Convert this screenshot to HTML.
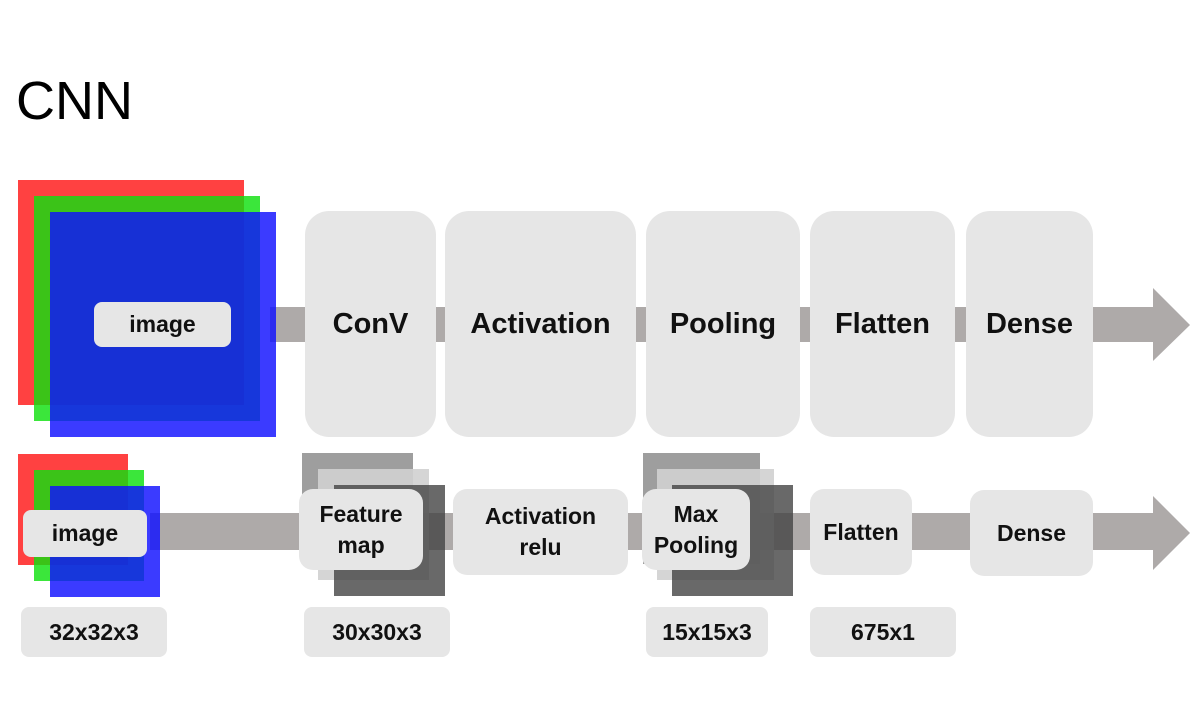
<!DOCTYPE html>
<html><head><style>
body{margin:0;width:1197px;height:705px;background:#fff;position:relative;overflow:hidden;font-family:"Liberation Sans",sans-serif}
div{position:absolute;box-sizing:border-box}
.b{background:#e6e6e6;border-radius:24px;display:flex;align-items:center;justify-content:center;text-align:center;font-weight:bold;color:#111;font-size:29px}
.s{background:#e6e6e6;border-radius:12px;display:flex;align-items:center;justify-content:center;text-align:center;font-weight:bold;color:#111;font-size:23px;line-height:31px}
</style></head><body>
<div style="left:16px;top:70px;font-size:54px;color:#000">CNN</div>
<svg style="position:absolute;left:0;top:0" width="1197" height="705">
<rect x="270" y="307" width="890" height="35" fill="#aeaaa9"/>
<polygon points="1153,288 1190,325 1153,361" fill="#aeaaa9"/>
<rect x="150" y="513" width="1010" height="37" fill="#aeaaa9"/>
<polygon points="1153,496 1190,533 1153,570" fill="#aeaaa9"/>
<rect x="18" y="180" width="226" height="225" fill="#ff2020" fill-opacity=".85"/>
<rect x="34" y="196" width="226" height="225" fill="#10e010" fill-opacity=".82"/>
<rect x="50" y="212" width="226" height="225" fill="#1010ff" fill-opacity=".82"/>
<rect x="18" y="454" width="110" height="111" fill="#ff2020" fill-opacity=".85"/>
<rect x="34" y="470" width="110" height="111" fill="#10e010" fill-opacity=".82"/>
<rect x="50" y="486" width="110" height="111" fill="#1010ff" fill-opacity=".82"/>
<rect x="302" y="453" width="111" height="111" fill="#9e9e9e"/>
<rect x="318" y="469" width="111" height="111" fill="#d0d0d0" fill-opacity=".9"/>
<rect x="334" y="485" width="111" height="111" fill="#444" fill-opacity=".8"/>
<rect x="643" y="453" width="117" height="111" fill="#9e9e9e"/>
<rect x="657" y="469" width="117" height="111" fill="#d0d0d0" fill-opacity=".9"/>
<rect x="672" y="485" width="121" height="111" fill="#444" fill-opacity=".8"/>
</svg>
<div class="s" style="left:94px;top:302px;width:137px;height:45px;border-radius:8px">image</div>
<div class="b" style="left:305px;top:211px;width:131px;height:226px">ConV</div>
<div class="b" style="left:445px;top:211px;width:191px;height:226px">Activation</div>
<div class="b" style="left:646px;top:211px;width:154px;height:226px">Pooling</div>
<div class="b" style="left:810px;top:211px;width:145px;height:226px">Flatten</div>
<div class="b" style="left:966px;top:211px;width:127px;height:226px">Dense</div>
<div class="s" style="left:23px;top:510px;width:124px;height:47px;border-radius:8px">image</div>
<div class="s" style="left:299px;top:489px;width:124px;height:81px;border-radius:14px">Feature<br>map</div>
<div class="s" style="left:453px;top:489px;width:175px;height:86px;border-radius:14px">Activation<br>relu</div>
<div class="s" style="left:642px;top:489px;width:108px;height:81px;border-radius:14px">Max<br>Pooling</div>
<div class="s" style="left:810px;top:489px;width:102px;height:86px;border-radius:14px">Flatten</div>
<div class="s" style="left:970px;top:490px;width:123px;height:86px;border-radius:14px">Dense</div>
<div class="s" style="left:21px;top:607px;width:146px;height:50px;border-radius:8px">32x32x3</div>
<div class="s" style="left:304px;top:607px;width:146px;height:50px;border-radius:8px">30x30x3</div>
<div class="s" style="left:646px;top:607px;width:122px;height:50px;border-radius:8px">15x15x3</div>
<div class="s" style="left:810px;top:607px;width:146px;height:50px;border-radius:8px">675x1</div>
</body></html>
